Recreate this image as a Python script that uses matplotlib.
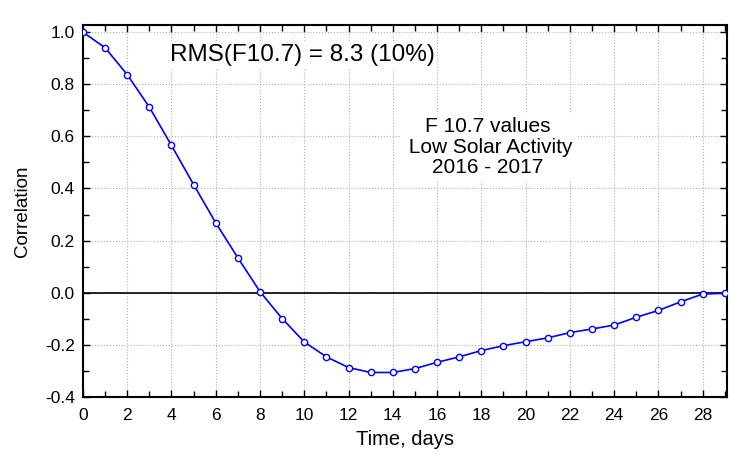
import numpy as np
import matplotlib
matplotlib.use("Agg")
import matplotlib.pyplot as plt
from matplotlib.ticker import MultipleLocator

plt.rcParams['font.family'] = ['Liberation Sans', 'DejaVu Sans']

# lag in days and correlation values
days = list(range(30))
corr = [1.0, 0.94, 0.837, 0.712, 0.565, 0.415, 0.268, 0.134, 0.004, -0.099,
        -0.189, -0.246, -0.287, -0.306, -0.306, -0.291, -0.267, -0.246, -0.222, -0.203,
        -0.188, -0.173, -0.153, -0.139, -0.124, -0.094, -0.068, -0.035, -0.005, -0.002]

rms_text = "RMS(F10.7) = 8.3 (10%)"
info_text = "F 10.7 values\n Low Solar Activity\n2016 - 2017"

fig = plt.figure(figsize=(7.31, 4.55), dpi=100)
ax = fig.add_axes([0.1135, 0.1275, 0.881, 0.8185])

ax.axhline(0, color="black", lw=1.2, zorder=2)
ax.plot(days, corr, color="#0000ff", lw=1.2, marker="o", markersize=4.5,
        markerfacecolor="white", markeredgecolor="#0000ff", markeredgewidth=1.0, zorder=3)

ax.set_xlim(0, 29.1)
ax.set_ylim(-0.4, 1.029)
ax.xaxis.set_minor_locator(MultipleLocator(1))
ax.yaxis.set_minor_locator(MultipleLocator(0.1))
yt = np.arange(-0.4, 1.01, 0.2)
ax.set_yticks(yt)
ax.set_yticklabels(["%.1f" % v for v in yt])
ax.set_xticks(range(0, 29, 2))

ax.grid(True, which="major", color="#b0b0b0", ls=":", lw=0.8)
ax.tick_params(which="both", direction="in", top=True, right=True, labelsize=12.5, width=1.0)
ax.tick_params(which="major", length=5)
ax.tick_params(axis="x", which="major", pad=8)
ax.tick_params(axis="y", which="major", pad=6)
ax.tick_params(which="minor", length=4)
for s in ax.spines.values():
    s.set_linewidth(1.5)

ax.set_xlabel("Time, days", fontsize=14.5, labelpad=5)
ax.set_ylabel("Correlation", fontsize=13.5, labelpad=10)

ax.text(0.135, 0.902, rms_text, transform=ax.transAxes, fontsize=17.5, va="baseline", ha="left",
        bbox=dict(facecolor="white", edgecolor="none", pad=2))
ax.text(0.629, 0.671, info_text, transform=ax.transAxes, fontsize=15, va="center", ha="center",
        linespacing=1.1, bbox=dict(facecolor="white", edgecolor="none", pad=2))

fig.savefig("out.png", dpi=100)
